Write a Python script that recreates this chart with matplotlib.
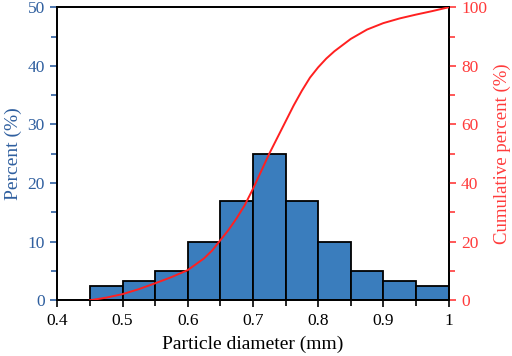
import matplotlib
matplotlib.use('Agg')
import matplotlib.pyplot as plt
from matplotlib.ticker import MultipleLocator, FuncFormatter

plt.rcParams['font.family'] = ['Liberation Serif', 'DejaVu Serif']

# histogram bins (left edges) and percentages
bin_left = [0.45, 0.50, 0.55, 0.60, 0.65, 0.70, 0.75, 0.80, 0.85, 0.90, 0.95]
percent = [2.5, 3.3, 5.0, 10.0, 17.0, 25.0, 17.0, 10.0, 5.0, 3.3, 2.5]
bin_width = 0.05

# cumulative curve
cum_x = [0.45, 0.475, 0.50, 0.525, 0.55, 0.575, 0.60, 0.625, 0.6375, 0.65,
         0.6625, 0.675, 0.6875, 0.70, 0.7125, 0.725, 0.7375, 0.75, 0.7625,
         0.775, 0.7875, 0.80, 0.8125, 0.825, 0.85, 0.875, 0.90, 0.925,
         0.95, 0.975, 1.0]
cum_y = [0, 0.9, 2.1, 3.8, 5.8, 7.9, 10.3, 14.3, 17.0, 20.5,
         24.0, 28.0, 32.5, 38.0, 44.0, 50.0, 55.5, 61.0, 66.5,
         71.5, 76.0, 79.5, 82.5, 85.0, 89.2, 92.4, 94.6, 96.2,
         97.5, 98.7, 100]

blue_fill = '#3a7dbd'
blue_txt = '#2f5f9f'
red_txt = '#ff3b3b'
red_line = '#ff2020'

fig = plt.figure(figsize=(5.12, 3.56), dpi=100)
ax = fig.add_axes([0.112, 0.1565, 0.764, 0.823])

ax.bar(bin_left, percent, width=bin_width, align='edge', color=blue_fill,
       edgecolor='black', linewidth=1.3, zorder=2)

ax.set_xlim(0.4, 1.0)
ax.set_ylim(0, 50)
ax.xaxis.set_major_locator(MultipleLocator(0.1))
ax.xaxis.set_minor_locator(MultipleLocator(0.05))
ax.xaxis.set_major_formatter(FuncFormatter(lambda v, p: f'{v:g}'))
ax.yaxis.set_major_locator(MultipleLocator(10))
ax.yaxis.set_minor_locator(MultipleLocator(5))

ax.tick_params(axis='both', which='both', direction='out', width=1.2, labelsize=12.5)
ax.tick_params(axis='both', which='major', length=5, pad=4)
ax.tick_params(axis='both', which='minor', length=4)
ax.tick_params(axis='y', which='both', colors=blue_txt)
ax.set_xlabel('Particle diameter (mm)', fontsize=14, labelpad=5)
ax.set_ylabel('Percent (%)', fontsize=14, color=blue_txt, labelpad=4)

ax2 = ax.twinx()
ax2.plot(cum_x, cum_y, color=red_line, linewidth=1.4, zorder=3)
ax2.set_ylim(0, 100)
ax2.yaxis.set_major_locator(MultipleLocator(20))
ax2.yaxis.set_minor_locator(MultipleLocator(10))
ax2.tick_params(axis='y', which='both', direction='out', width=1.2,
                labelsize=12.5, colors=red_txt)
ax2.tick_params(axis='y', which='major', length=5, pad=4)
ax2.tick_params(axis='y', which='minor', length=4)
ax2.set_ylabel('Cumulative percent (%)', fontsize=13.5, color=red_txt, labelpad=5)

for a in (ax, ax2):
    for sp in a.spines.values():
        sp.set_linewidth(1.3)
        sp.set_color('black')

fig.savefig('out.png', dpi=100)
plt.close(fig)
